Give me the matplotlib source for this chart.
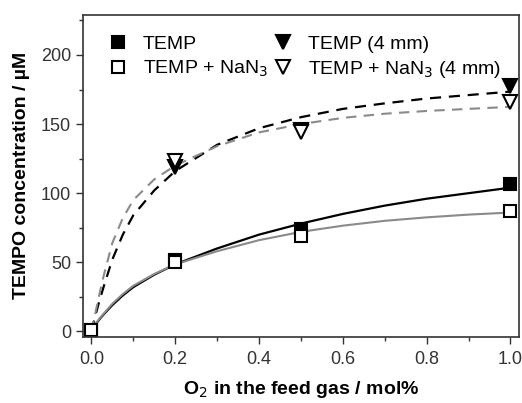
import numpy as np
import matplotlib
matplotlib.use("Agg")
import matplotlib.pyplot as plt
from matplotlib.ticker import MultipleLocator

plt.rcParams['font.family'] = ['Liberation Sans', 'DejaVu Sans']

# measured points
x_pts = [0.0, 0.2, 0.5, 1.0]
temp = [1, 52, 74, 107]
temp_nan3 = [1, 50, 69, 87]
x_4mm = [0.2, 0.5, 1.0]
temp_4mm = [119, 146, 177.5]
temp_nan3_4mm = [123, 144, 166]

# fitted curves
x_fit = [0.0, 0.01, 0.02, 0.03, 0.05, 0.075, 0.1, 0.15, 0.2, 0.3, 0.4, 0.5, 0.6, 0.7, 0.8, 0.9, 1.0]
fit_temp = [0, 5, 9, 12.5, 19, 26, 32, 41, 48.5, 60, 70, 78, 85, 91, 96, 100, 104]
fit_temp_nan3 = [0, 5.5, 9.5, 13, 20, 27, 33, 41.5, 48.5, 58, 66, 72, 76.5, 80, 82.5, 84.5, 86]
fit_temp_4mm = [0, 12, 23, 33, 52, 70, 84, 102, 116, 135, 147, 155, 161, 165, 168.5, 171, 173.5]
fit_temp_nan3_4mm = [0, 14, 28, 41, 64, 82, 95, 110, 120, 134, 144, 150, 154.5, 157.5, 159.5, 161, 162.5]

grey = '#8a8a8a'

fig = plt.figure(figsize=(5.22, 4.03), dpi=100)
ax = fig.add_axes([0.159, 0.164, 0.835, 0.799])

ax.plot(x_fit, fit_temp, color='black', lw=1.6)
ax.plot(x_fit, fit_temp_nan3, color=grey, lw=1.5)
ax.plot(x_fit, fit_temp_4mm, color='black', lw=1.6, ls=(0, (5, 3.5)))
ax.plot(x_fit, fit_temp_nan3_4mm, color=grey, lw=1.5, ls=(0, (5, 3.5)))

h1, = ax.plot(x_pts, temp, 's', color='black', ms=8, mec='black', mew=1.5, ls='none', label='TEMP')
h3, = ax.plot(x_4mm, temp_4mm, 'v', color='black', ms=10, mec='black', mew=1.5, ls='none', label='TEMP (4 mm)')
h2, = ax.plot(x_pts, temp_nan3, 's', mfc='white', ms=8, mec='black', mew=1.5, ls='none', label='TEMP + NaN$_3$')
h4, = ax.plot(x_4mm, temp_nan3_4mm, 'v', mfc='white', ms=10, mec='black', mew=1.5, ls='none', label='TEMP + NaN$_3$ (4 mm)')

ax.set_xlim(-0.02, 1.02)
ax.set_ylim(-4, 229)
ax.xaxis.set_minor_locator(MultipleLocator(0.1))
ax.yaxis.set_major_locator(MultipleLocator(50))
ax.yaxis.set_minor_locator(MultipleLocator(25))
ax.set_xticks([0.0, 0.2, 0.4, 0.6, 0.8, 1.0])
ax.set_xticklabels(['0.0', '0.2', '0.4', '0.6', '0.8', '1.0'])
ax.tick_params(which='major', direction='out', length=5, width=1, labelsize=13, colors='#333333', labelcolor='#333333')
ax.tick_params(which='minor', direction='out', length=3, width=1, colors='#333333')
ax.tick_params(axis='x', pad=5)
for s in ax.spines.values():
    s.set_linewidth(1.2)
    s.set_color('#333333')

ax.set_xlabel('O$_2$ in the feed gas / mol%', fontsize=14, fontweight='bold', labelpad=8)
ax.set_ylabel('TEMPO concentration / \u00b5M', fontsize=14, fontweight='bold', labelpad=8)

ax.legend(handles=[h1, h2, h3, h4], loc='upper left', ncol=2, frameon=False,
          fontsize=14, handlelength=1.0, handletextpad=0.8, columnspacing=0.25,
          labelspacing=0.3, bbox_to_anchor=(0.017, 0.99))

fig.savefig('out.png', dpi=100)
